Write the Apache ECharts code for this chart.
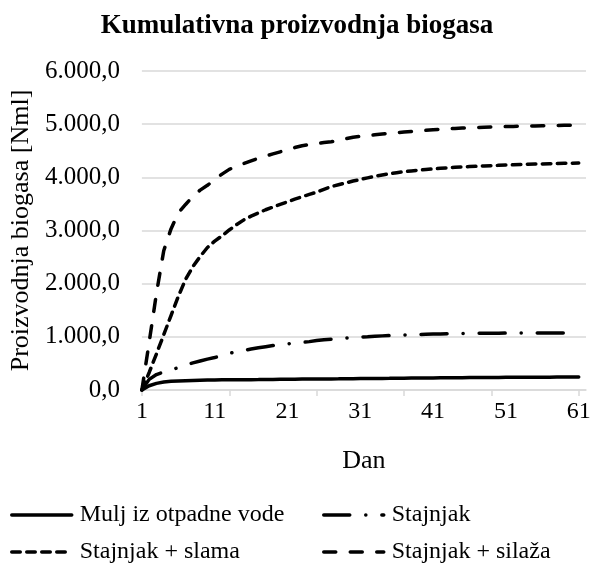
<!DOCTYPE html>
<html>
<head>
    <meta charset="utf-8" />
    <script src="https://cdn.jsdelivr.net/npm/echarts@6/dist/echarts.min.js"></script>
    <title></title>
</head>
<body style="margin:0">
    <div id="main" style="width: 594px;height:570px;"></div>
</body>
</html>
<script>
    // day 1..62 on the axis, data runs to day 61
    var days = [];
    for (var d = 1; d <= 62; d++) days.push(String(d));

    var mulj = [0, 80, 125, 150, 163, 170, 176, 181, 185, 188,
        190, 191, 192, 193, 194, 195, 196, 198, 199, 201,
        203, 204, 205, 206, 207, 208, 209, 210, 212, 213,
        214, 215, 216, 218, 219, 221, 222, 224, 225, 227,
        228, 229, 230, 231, 232, 233, 234, 235, 236, 237,
        238, 239, 239, 240, 241, 241, 242, 243, 243, 244, 245];

    var stajnjak = [0, 200, 290, 340, 380, 420, 470, 510, 545, 580,
        610, 645, 690, 720, 745, 770, 795, 815, 835, 852,
        868, 883, 897, 910, 930, 945, 957, 968, 978, 987,
        995, 1003, 1012, 1018, 1024, 1030, 1035, 1040, 1044, 1048,
        1052, 1055, 1058, 1060, 1062, 1064, 1066, 1067, 1068, 1069,
        1070, 1070, 1071, 1071, 1071, 1072, 1072, 1072, 1072, 1072, 1072];

    var slama = [0, 330, 680, 1040, 1400, 1760, 2080, 2320, 2510, 2680,
        2800, 2900, 3010, 3110, 3200, 3270, 3330, 3390, 3440, 3490,
        3540, 3590, 3635, 3680, 3720, 3775, 3825, 3860, 3895, 3930,
        3960, 3990, 4020, 4045, 4068, 4088, 4105, 4120, 4135, 4148,
        4160, 4170, 4180, 4188, 4195, 4202, 4208, 4214, 4220, 4226,
        4231, 4236, 4241, 4245, 4249, 4253, 4257, 4260, 4263, 4266, 4269];

    var silaza = [0, 900, 1820, 2620, 3030, 3330, 3490, 3640, 3760, 3850,
        3960, 4060, 4150, 4210, 4260, 4310, 4360, 4400, 4440, 4480,
        4520, 4560, 4595, 4615, 4635, 4655, 4670, 4690, 4725, 4755,
        4770, 4785, 4800, 4815, 4828, 4840, 4852, 4863, 4874, 4885,
        4895, 4905, 4913, 4920, 4927, 4933, 4938, 4943, 4947, 4951,
        4955, 4958, 4961, 4964, 4966, 4969, 4972, 4975, 4978, 4981, 4984];

    var names = ['Mulj iz otpadne vode', 'Stajnjak', 'Stajnjak + slama', 'Stajnjak + silaža'];

    var font = 'Liberation Serif';

    function fmt(v) {
        var s = Math.round(v).toString().replace(/\B(?=(\d{3})+(?!\d))/g, '.');
        return s + ',0';
    }

    function legendAt(name, left, top) {
        return {
            data: [name],
            left: left,
            top: top,
            padding: 0,
            itemWidth: 60,
            itemHeight: 14,
            itemStyle: { opacity: 0 },
            lineStyle: { width: 3.5 },
            textStyle: { fontFamily: font, fontSize: 24, color: '#000', padding: [0, 0, 0, 3] }
        };
    }

    function line(name, data, dash) {
        return {
            name: name,
            type: 'line',
            data: data,
            symbol: 'none',
            lineStyle: { color: '#000', width: 3.5, type: dash, cap: 'round' },
            itemStyle: { color: '#000' }
        };
    }

    var chart = echarts.init(document.getElementById('main'));
    var option = {
        animation: false,
        title: {
            text: 'Kumulativna proizvodnja biogasa',
            left: 'center',
            top: 8,
            textStyle: { fontFamily: font, fontSize: 27, fontWeight: 'bold', color: '#000' }
        },
        legend: [
            legendAt(names[0], 10, 503),
            legendAt(names[1], 322, 503),
            legendAt(names[2], 10, 540),
            legendAt(names[3], 322, 540)
        ],
        grid: { left: 138, right: 8, top: 71, bottom: 180 },
        xAxis: {
            type: 'category',
            data: days,
            boundaryGap: false,
            name: 'Dan',
            nameLocation: 'middle',
            nameGap: 58,
            nameTextStyle: { fontFamily: font, fontSize: 26, color: '#000' },
            axisLine: { lineStyle: { color: '#d9d9d9', width: 1.5 } },
            axisTick: { show: true, interval: 11, length: 6, lineStyle: { color: '#d9d9d9', width: 1.5 } },
            axisLabel: { interval: 9, margin: 10, fontFamily: font, fontSize: 24, color: '#000' },
            splitLine: { show: false }
        },
        yAxis: {
            type: 'value',
            min: 0,
            max: 6000,
            interval: 1000,
            name: 'Proizvodnja biogasa [Nml]',
            nameLocation: 'middle',
            nameGap: 106,
            nameTextStyle: { fontFamily: font, fontSize: 26, color: '#000' },
            axisLine: { show: false },
            axisTick: { show: false },
            axisLabel: { margin: 22, fontFamily: font, fontSize: 25, color: '#000', formatter: fmt },
            splitLine: { lineStyle: { color: '#d9d9d9', width: 1.5 } }
        },
        series: [
            line(names[0], mulj, 'solid'),
            line(names[1], stajnjak, [26, 16, 0.1, 16]),
            line(names[2], slama, [8.5, 6.5]),
            line(names[3], silaza, [12, 14.5])
        ]
    };
    chart.setOption(option);
</script>
